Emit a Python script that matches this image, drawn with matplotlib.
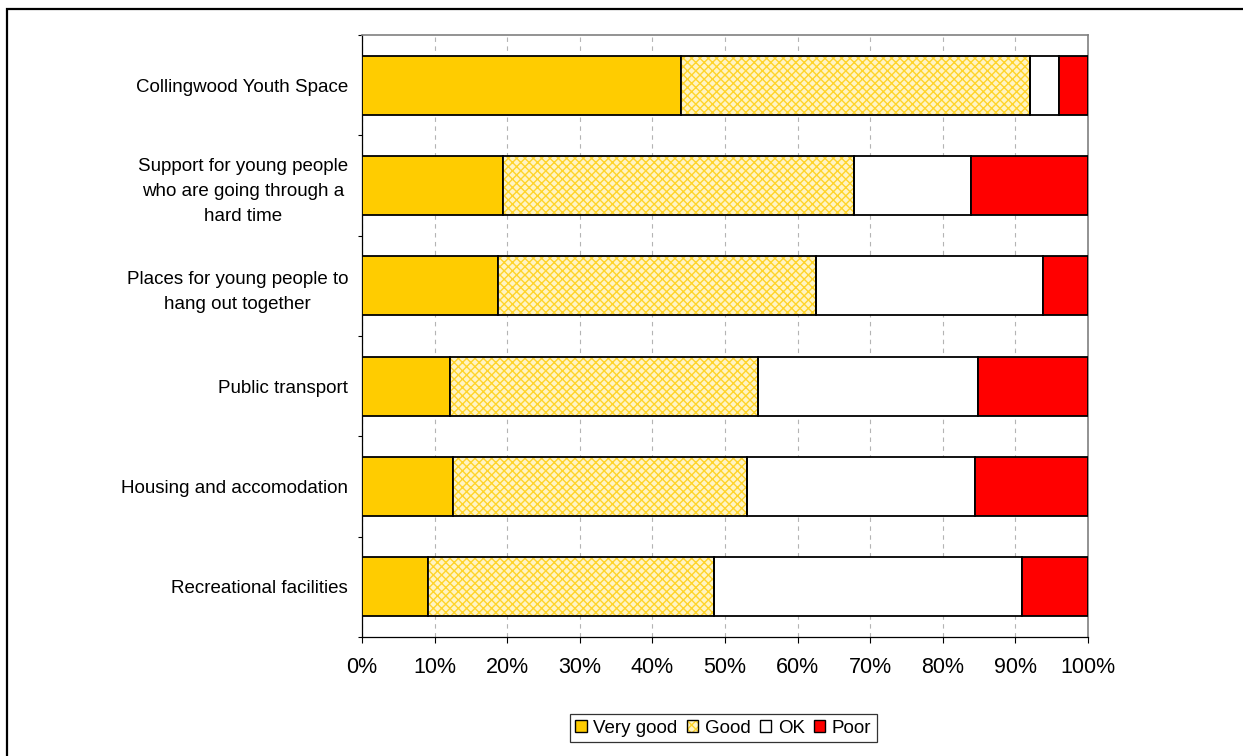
import numpy as np
import matplotlib
matplotlib.use("Agg")
import matplotlib.pyplot as plt
from matplotlib.patches import Patch, Rectangle

plt.rcParams["font.family"] = ["Liberation Sans", "DejaVu Sans"]
plt.rcParams["hatch.linewidth"] = 1.0

categories = [
    "Collingwood Youth Space",
    "Support for young people\nwho are going through a\nhard time",
    "Places for young people to\nhang out together",
    "Public transport",
    "Housing and accomodation",
    "Recreational facilities",
]
very_good = [44.0, 19.4, 18.8, 12.1, 12.5, 9.1]
good = [48.0, 48.4, 43.7, 42.4, 40.6, 39.4]
ok = [4.0, 16.1, 31.3, 30.3, 31.3, 42.4]
poor = [4.0, 16.1, 6.2, 15.2, 15.6, 9.1]
series_names = ["Very good", "Good", "OK", "Poor"]
x_ticks = list(range(0, 101, 10))


def stacked_chart():
    fig = plt.figure(figsize=(12.43, 7.56), dpi=100)
    ax = fig.add_axes([0.2912, 0.1574, 0.5841, 0.7963])

    # border round the whole chart area
    fig.patches.append(Rectangle((0.0056, -0.05), 1.2, 1.038, transform=fig.transFigure,
                                 fill=False, edgecolor="black", linewidth=1.6))

    y = np.arange(len(categories))
    h = 0.59
    edge = dict(edgecolor="black", linewidth=1.3)

    vg = np.array(very_good)
    gd = np.array(good)
    okv = np.array(ok)
    pr = np.array(poor)

    ax.barh(y, vg, height=h, color="#FFCC00", zorder=3, **edge)
    # good: hatch layer first, then a plain outline on top
    ax.barh(y, gd, left=vg, height=h, facecolor="#FFF4C4", hatch="xxxx",
            edgecolor="#FFD42A", linewidth=0, zorder=3)
    ax.barh(y, gd, left=vg, height=h, fill=False, zorder=4, **edge)
    ax.barh(y, okv, left=vg + gd, height=h, color="white", zorder=3, **edge)
    ax.barh(y, pr, left=vg + gd + okv, height=h, color="#FF0000", zorder=3, **edge)

    ax.set_xlim(0, 100)
    ax.set_ylim(len(categories) - 0.5, -0.5)

    ax.set_xticks(x_ticks)
    ax.set_xticklabels([f"{v}%" for v in x_ticks], fontsize=15.5)
    ax.tick_params(axis="x", direction="out", length=4.5, width=0.8, pad=10)

    ax.set_yticks(y)
    ax.set_yticklabels(categories, fontsize=13.5, linespacing=1.6)
    for lab in ax.get_yticklabels():
        lab.set_multialignment("center")
    ax.tick_params(axis="y", which="major", length=0, pad=10)
    ax.set_yticks(np.arange(len(categories) + 1) - 0.5, minor=True)
    ax.tick_params(axis="y", which="minor", direction="out", length=3, width=0.8)

    ax.grid(axis="x", color="#B4B4B4", linestyle=(0, (4, 4)), linewidth=0.8, zorder=0)
    ax.set_axisbelow(True)

    for side in ("top", "right"):
        ax.spines[side].set_color("#808080")
        ax.spines[side].set_linewidth(1.2)
    for side in ("left", "bottom"):
        ax.spines[side].set_color("black")
        ax.spines[side].set_linewidth(0.9)

    handles = [
        Patch(facecolor="#FFCC00", edgecolor="black", linewidth=1),
        (Patch(facecolor="#FFF4C4", hatch="xxxx", edgecolor="#FFD42A", linewidth=0),
         Patch(fill=False, edgecolor="black", linewidth=1)),
        Patch(facecolor="white", edgecolor="black", linewidth=1),
        Patch(facecolor="#FF0000", edgecolor="black", linewidth=1),
    ]
    leg = fig.legend(handles, series_names, loc="center", bbox_to_anchor=(0.582, 0.037),
                     ncol=4, fontsize=13.5, frameon=True, fancybox=False,
                     edgecolor="black", handlelength=0.6, handleheight=0.6,
                     handletextpad=0.35, columnspacing=0.5, borderpad=0.3,
                     borderaxespad=0)
    leg.get_frame().set_linewidth(0.9)
    return fig


if __name__ == "__main__":
    fig = stacked_chart()
    fig.savefig("out.png", dpi=100)
